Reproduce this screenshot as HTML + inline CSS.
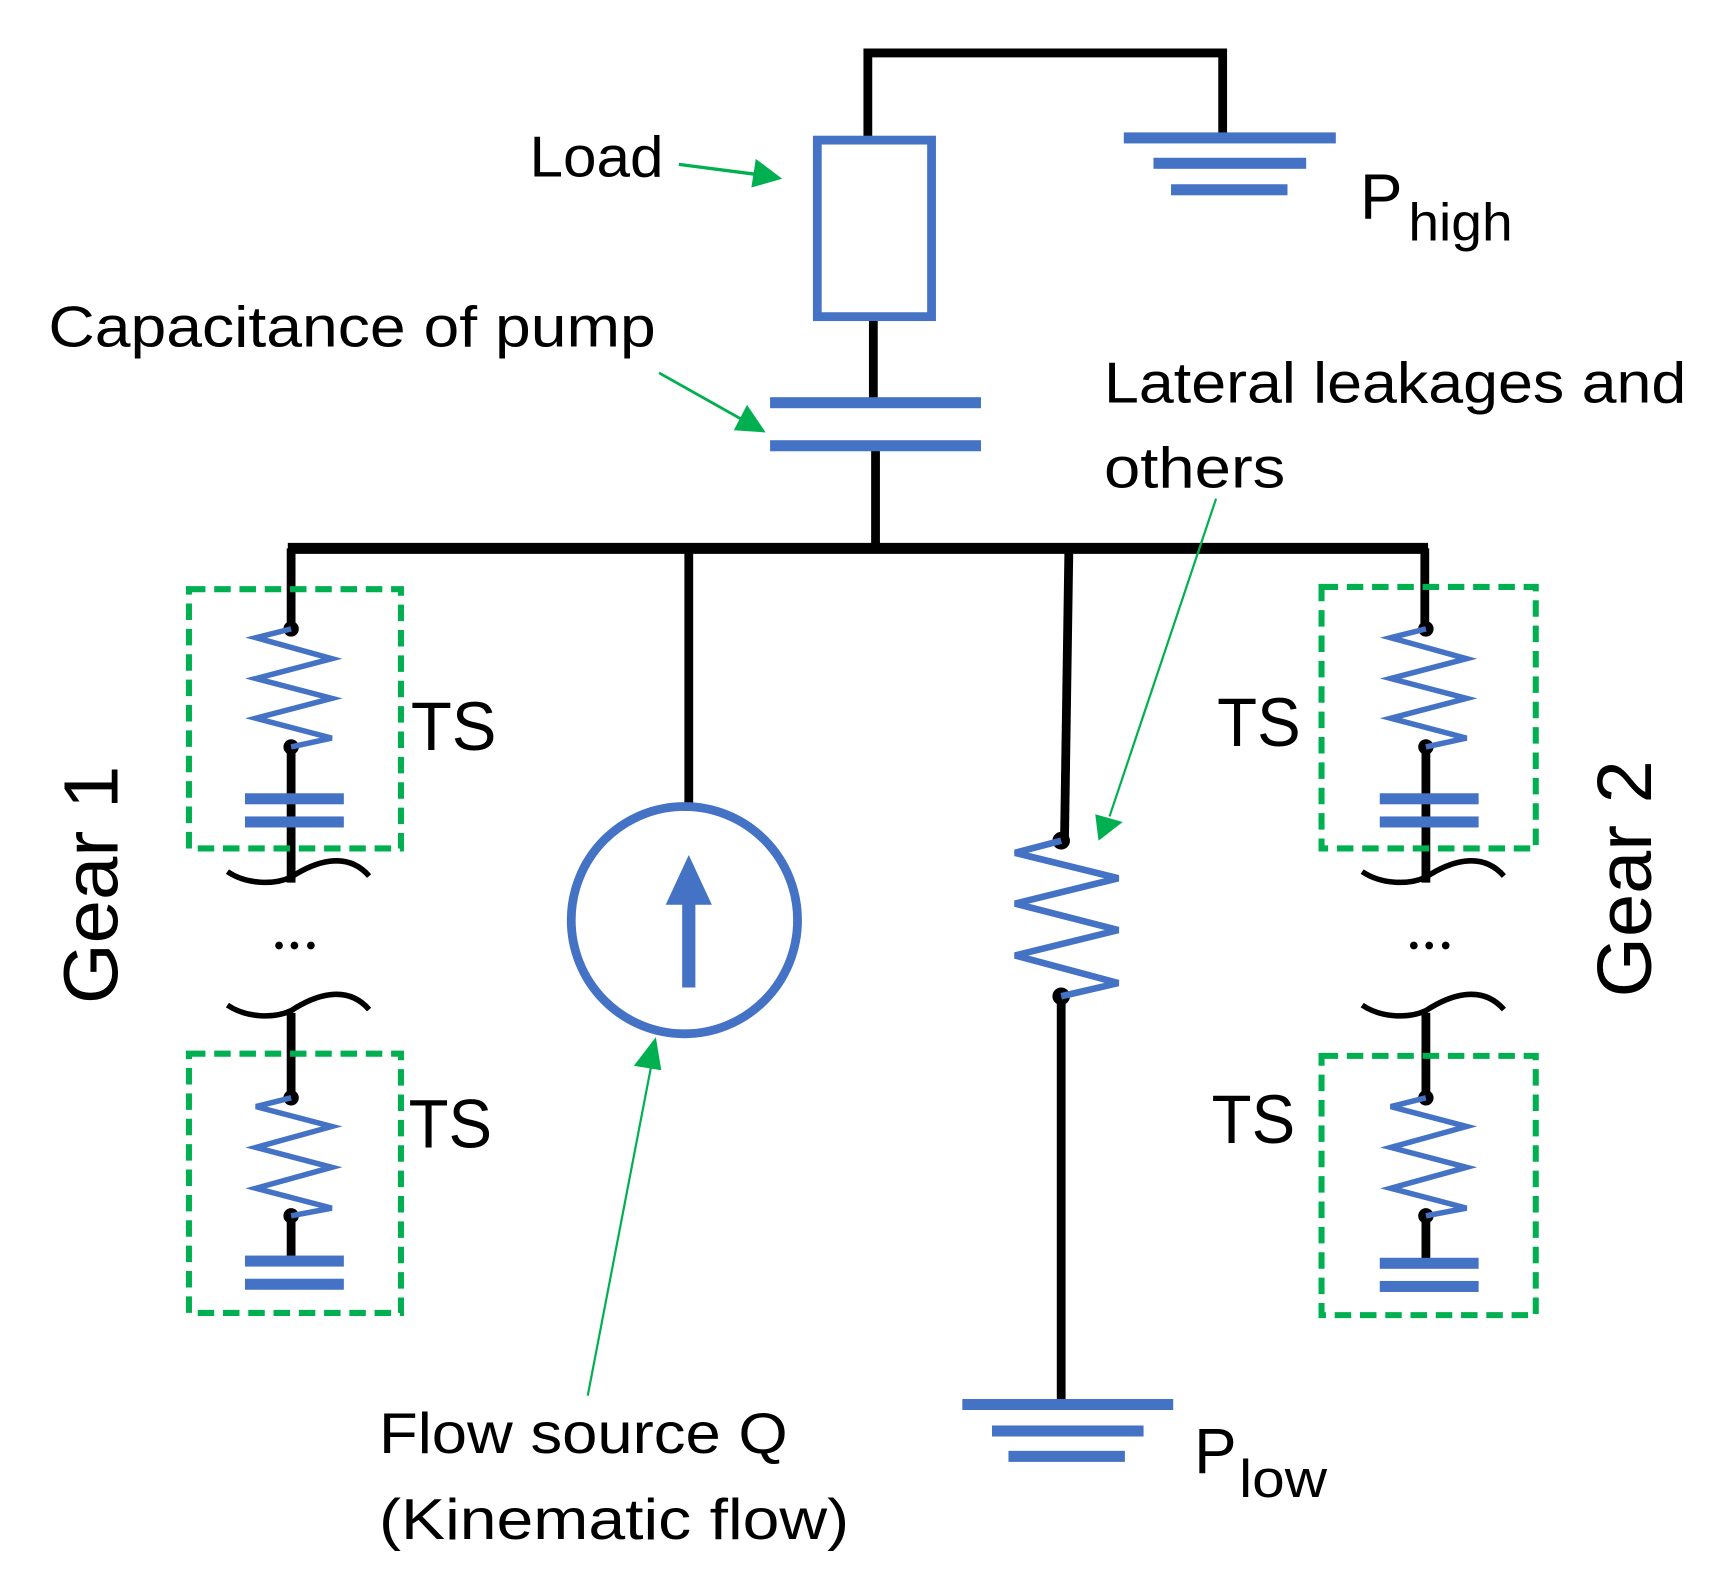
<!DOCTYPE html>
<html><head><meta charset="utf-8"><style>
html,body{margin:0;padding:0;background:#fff}
svg{display:block}
text{font-family:"Liberation Sans",sans-serif;fill:#000}
</style></head><body>
<svg width="1728" height="1570" viewBox="0 0 1573 1423" preserveAspectRatio="none" xmlns="http://www.w3.org/2000/svg">
<g stroke="#000" stroke-width="8" fill="none">
<polyline points="790,124 790,48 1113,48 1113,124"/>
<line x1="795" y1="287" x2="795" y2="365"/>
<line x1="797" y1="404" x2="797" y2="497"/>
<line x1="262" y1="497" x2="1300" y2="497" stroke-width="10"/>
<line x1="265" y1="497" x2="265" y2="568"/>
<line x1="627" y1="497" x2="627" y2="735"/>
<line x1="973" y1="497" x2="969" y2="762"/>
<line x1="1297" y1="497" x2="1297" y2="568"/>
<line x1="265" y1="677" x2="265" y2="800"/>
<line x1="265" y1="918" x2="265" y2="995"/>
<line x1="265" y1="1100" x2="265" y2="1143"/>
<line x1="1298" y1="677" x2="1298" y2="800"/>
<line x1="1298" y1="918" x2="1298" y2="995"/>
<line x1="1298" y1="1100" x2="1298" y2="1143"/>
<line x1="966" y1="903" x2="966" y2="1270"/>
</g>
<g stroke="#000" stroke-width="5" fill="none">
<path d="M207,790 C225,802 250,802 265,795 C285,782 315,770 336,794"/>
<path d="M207,911 C225,923 250,923 265,916 C285,903 315,891 336,915"/>
<path d="M1240,790 C1258,802 1283,802 1298,795 C1318,782 1348,770 1369,794"/>
<path d="M1240,911 C1258,923 1283,923 1298,916 C1318,903 1348,891 1369,915"/>
</g>
<g fill="#000">
<circle cx="265" cy="570" r="7"/><circle cx="265" cy="677" r="7"/>
<circle cx="265" cy="995" r="7"/><circle cx="265" cy="1102" r="7"/>
<circle cx="1298" cy="570" r="7"/><circle cx="1298" cy="677" r="7"/>
<circle cx="1298" cy="995" r="7"/><circle cx="1298" cy="1102" r="7"/>
<circle cx="966" cy="762" r="8"/><circle cx="966" cy="903" r="8"/>
<circle cx="254" cy="857" r="3.5"/><circle cx="268" cy="857" r="3.5"/><circle cx="283" cy="857" r="3.5"/>
<circle cx="1287" cy="857" r="3.5"/><circle cx="1301" cy="857" r="3.5"/><circle cx="1316" cy="857" r="3.5"/>
</g>
<g fill="#4472c4">
<rect x="1023" y="120" width="193" height="10"/>
<rect x="1050" y="143" width="139" height="10"/>
<rect x="1066" y="167" width="106" height="10"/>
<rect x="701" y="360" width="192" height="10"/>
<rect x="701" y="399" width="192" height="10"/>
<rect x="876" y="1268" width="192" height="10"/>
<rect x="903" y="1292" width="138" height="10"/>
<rect x="918" y="1315" width="106" height="10"/>
<rect x="223" y="719" width="90" height="10"/><rect x="223" y="740" width="90" height="10"/>
<rect x="223" y="1138" width="90" height="10"/><rect x="223" y="1159" width="90" height="10"/>
<rect x="1256" y="719" width="90" height="10"/><rect x="1256" y="740" width="90" height="10"/>
<rect x="1256" y="1140" width="90" height="10"/><rect x="1256" y="1161" width="90" height="10"/>
<polygon points="606,820 648,820 627,775"/>
</g>
<g stroke="#4472c4" fill="none">
<rect x="744" y="127" width="104" height="160" stroke-width="8"/>
<circle cx="623" cy="834" r="103" stroke-width="8"/>
<line x1="627" y1="815" x2="627" y2="895" stroke-width="12"/>
<g stroke-width="5" stroke-linejoin="miter">
<polyline points="265,570 233,578 302,597 233,615 302,633 233,651 302,669 265,677"/>
<polyline points="265,995 233,1003 302,1021 233,1040 302,1058 233,1077 302,1095 265,1102"/>
<polyline points="1298,570 1266,578 1335,597 1266,615 1335,633 1266,651 1335,669 1298,677"/>
<polyline points="1298,995 1266,1003 1335,1021 1266,1040 1335,1058 1266,1077 1335,1095 1298,1102"/>
<polyline points="966,762 924,773 1018,796 924,819 1018,843 924,866 1018,891 966,903" stroke-width="6"/>
</g>
</g>
<g stroke="#00b050" stroke-width="5.5" fill="none" stroke-dasharray="15,8">
<rect x="172" y="534" width="193" height="235"/>
<rect x="172" y="955" width="193" height="235"/>
<rect x="1203" y="532" width="195" height="237"/>
<rect x="1203" y="957" width="195" height="235"/>
</g>
<g stroke="#00b050" fill="none">
<line x1="618" y1="149" x2="688" y2="158" stroke-width="3"/>
<line x1="600" y1="338" x2="675" y2="380" stroke-width="2.5"/>
<line x1="1107" y1="452" x2="1010" y2="740" stroke-width="2"/>
<line x1="535" y1="1265" x2="593" y2="965" stroke-width="2"/>
</g>
<g fill="#00b050">
<polygon points="712,162 684,170 688,144"/>
<polygon points="697,392 668,390 680,367"/>
<polygon points="1000,762 997,738 1022,745"/>
<polygon points="597,940 602,970 577,966"/>
</g>
<text x="482" y="160" font-size="52" textLength="122" lengthAdjust="spacingAndGlyphs">Load</text>
<text x="44" y="314" font-size="52" textLength="553" lengthAdjust="spacingAndGlyphs">Capacitance of pump</text>
<text x="1005" y="365" font-size="52" textLength="530" lengthAdjust="spacingAndGlyphs">Lateral leakages and</text>
<text x="1005" y="442" font-size="52" textLength="165" lengthAdjust="spacingAndGlyphs">others</text>
<text x="1238" y="198" font-size="58">P</text>
<text x="1282" y="218" font-size="48" textLength="95" lengthAdjust="spacingAndGlyphs">high</text>
<text x="1087" y="1335" font-size="58">P</text>
<text x="1128" y="1357" font-size="48" textLength="80" lengthAdjust="spacingAndGlyphs">low</text>
<text x="345" y="1317" font-size="52" textLength="372" lengthAdjust="spacingAndGlyphs">Flow source Q</text>
<text x="345" y="1395" font-size="52" textLength="428" lengthAdjust="spacingAndGlyphs">(Kinematic flow)</text>
<text x="374" y="680" font-size="62" textLength="78" lengthAdjust="spacingAndGlyphs">TS</text>
<text x="372" y="1040" font-size="62" textLength="76" lengthAdjust="spacingAndGlyphs">TS</text>
<text x="1108" y="676" font-size="62" textLength="76" lengthAdjust="spacingAndGlyphs">TS</text>
<text x="1103" y="1036" font-size="62" textLength="76" lengthAdjust="spacingAndGlyphs">TS</text>
<text transform="translate(107,910) rotate(-90)" font-size="70" textLength="216" lengthAdjust="spacingAndGlyphs">Gear 1</text>
<text transform="translate(1503,904) rotate(-90)" font-size="70" textLength="215" lengthAdjust="spacingAndGlyphs">Gear 2</text>
</svg>
</body></html>
